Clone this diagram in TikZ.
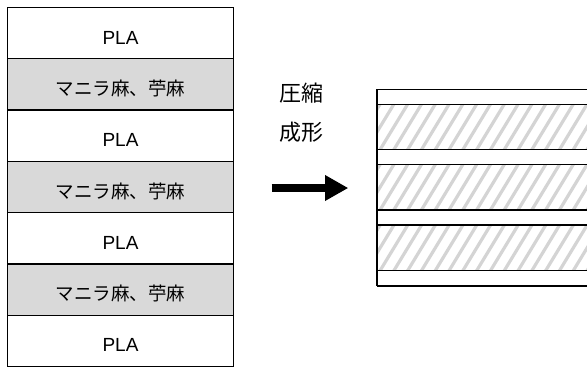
\documentclass[tikz,border=0pt]{standalone}
\usepackage{fontspec}
\setmainfont{Liberation Sans}
\newfontfamily\jp{Noto Sans CJK JP}
\usetikzlibrary{arrows.meta}
\definecolor{fibgray}{HTML}{D9D9D9}
\definecolor{hatchgray}{HTML}{D4D4D4}
\begin{document}
\begin{tikzpicture}[x=1pt,y=-1pt,
  layer/.style={draw=black, line width=1.3pt, minimum width=226pt, minimum height=51.3pt,
    inner sep=0pt, outer sep=0pt, anchor=north west, text height=31pt, text depth=9pt},
  plalayer/.style={layer, fill=white, font=\fontsize{19}{19}\selectfont},
  fiblayer/.style={layer, fill=fibgray, font=\jp\fontsize{18.5}{18.5}\selectfont},
  stackline/.style={draw=black, line width=1.3pt},
  hatchline/.style={draw=hatchgray, line width=3.2pt},
  jptext/.style={font=\jp\fontsize{22}{22}\selectfont, inner sep=0pt},
  bigarrow/.style={line width=8.3pt, -{Triangle[length=23.3pt,width=24.3pt]}}]
\useasboundingbox (0,0) rectangle (587,370);
% left stack
\node[plalayer] (l1) at (7.5,7.5) {PLA};
\node[fiblayer] (l2) at (7.5,58.8) {マニラ麻、苧麻};
\node[plalayer] (l3) at (7.5,110.1) {PLA};
\node[fiblayer] (l4) at (7.5,161.4) {マニラ麻、苧麻};
\node[plalayer] (l5) at (7.5,212.7) {PLA};
\node[fiblayer] (l6) at (7.5,264.0) {マニラ麻、苧麻};
\node[plalayer] (l7) at (7.5,315.3) {PLA};
% label and arrow
\node[jptext] (t1) at (301,93) {圧縮};
\node[jptext] (t2) at (301,132) {成形};
\coordinate (a1) at (271.7,188);
\coordinate (a2) at (348.3,188);
\draw[bigarrow] (a1) -- (a2);
% right stack: hatched bands
\foreach \ya/\yb in {104.3/149.7, 164.7/210, 225/270.7}{
  \begin{scope}
    \clip (377,\ya) rectangle (590,\yb);
    \foreach \i in {-6,...,18}{
      \draw[hatchline] (377+\i*13.8,\yb+5) -- ++(34,-56);
    }
  \end{scope}
}
\foreach \y in {89.3,104.3,149.7,164.7,210,225,270.7,286}{
  \draw[stackline] (377,\y) -- (590,\y);
}
\draw[stackline] (377,89.3) -- (377,286);
\end{tikzpicture}
\end{document}
